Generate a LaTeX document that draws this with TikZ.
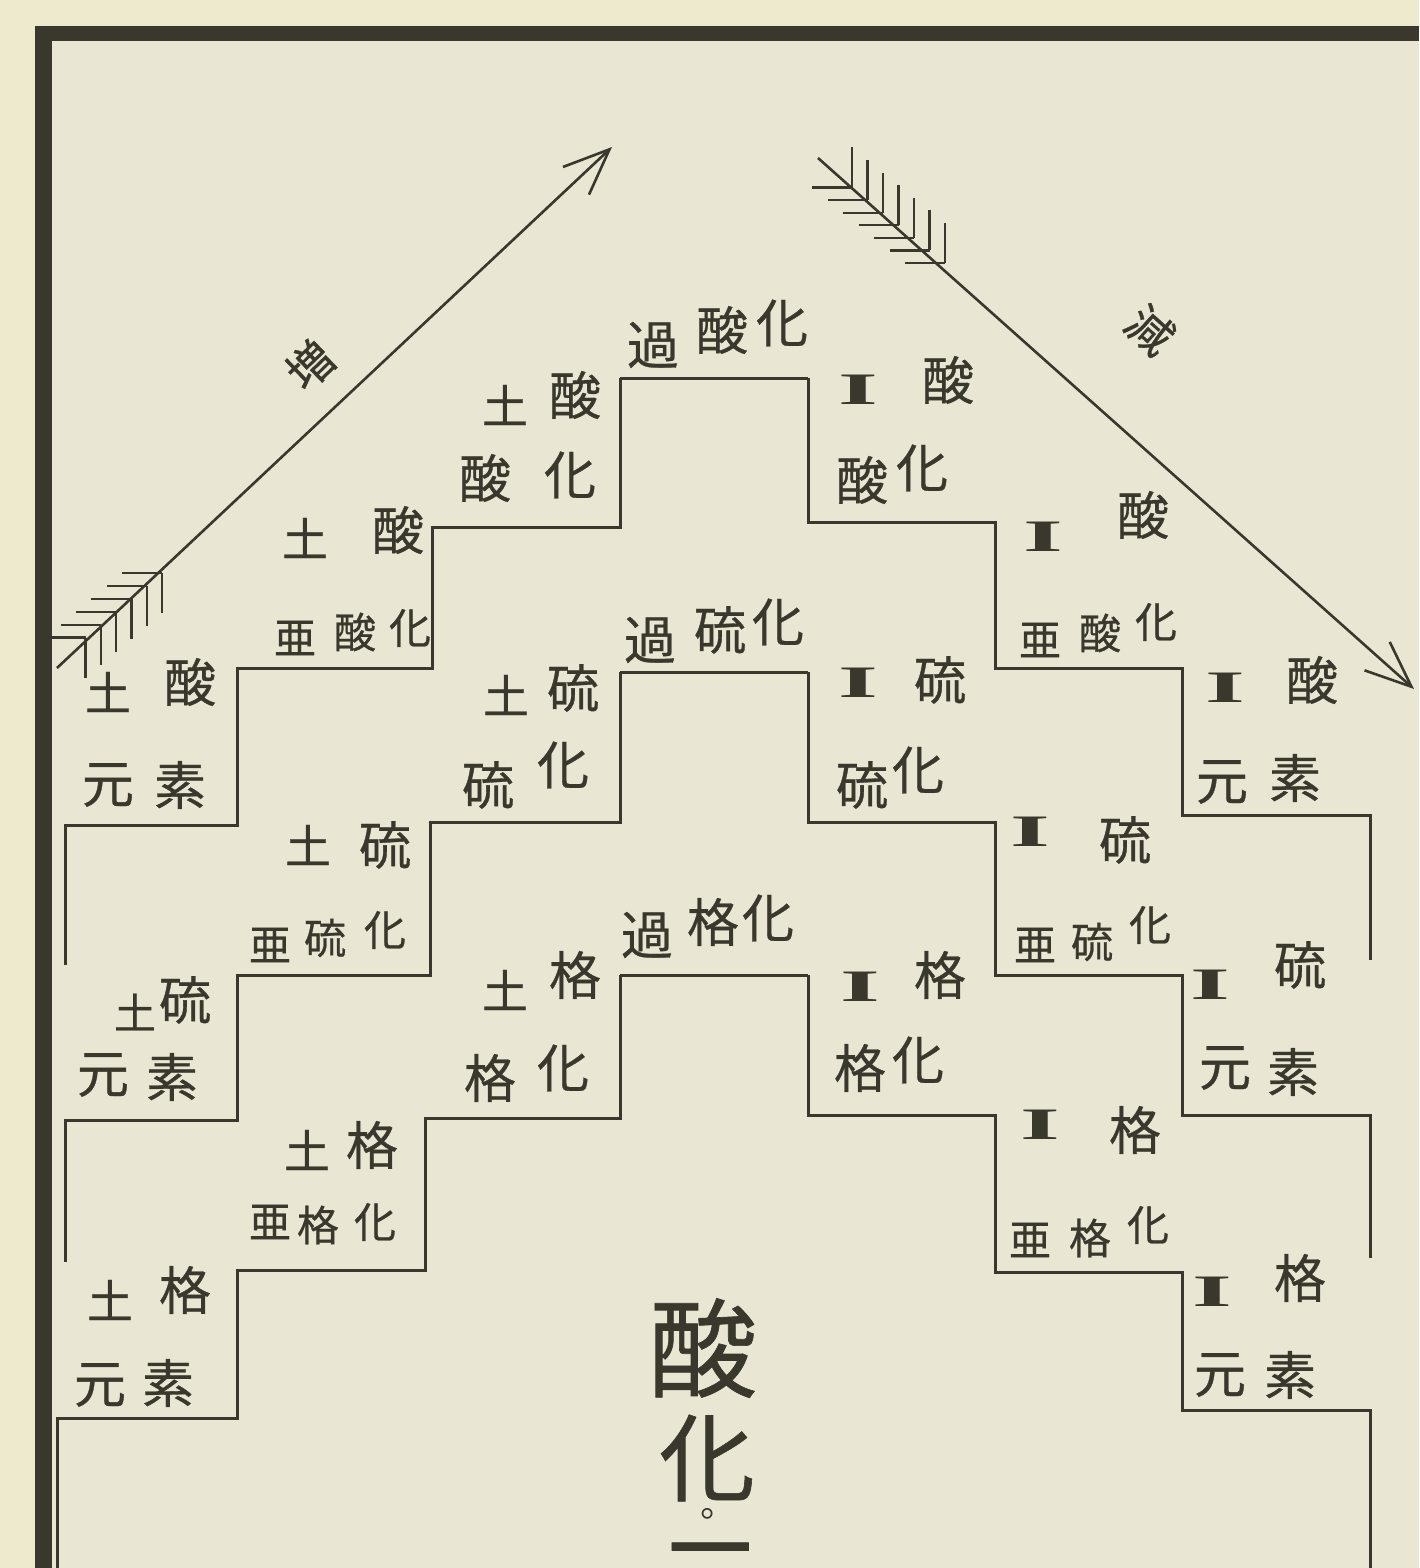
\documentclass[tikz,border=0pt]{standalone}
\usepackage{graphicx}
\usepackage{fontspec}
\setmainfont{Liberation Serif}
\newfontfamily\jp[FakeBold=0.6]{Noto Sans CJK JP}
\newfontfamily\tcfont{Noto Sans CJK TC}
\usetikzlibrary{arrows.meta,calc}
\definecolor{paper}{RGB}{233,231,212}
\definecolor{margin}{RGB}{238,234,206}
\definecolor{ink}{RGB}{58,56,45}
\newcommand{\sgnI}{\scalebox{1.7}[0.75]{I}}
\begin{document}
\begin{tikzpicture}[x=0.5pt,y=-0.5pt,
  cj/.style={inner sep=0pt,text=ink,font=\jp\fontsize{26}{26}\selectfont},
  cjs/.style={inner sep=0pt,text=ink,font=\jp\fontsize{21}{21}\selectfont},
  cjp/.style={inner sep=0pt,text=ink,font=\jp\fontsize{23}{23}\selectfont},
  cjb/.style={inner sep=0pt,text=ink,font=\jp\fontsize{54}{54}\selectfont},
  sgn/.style={inner sep=0pt,text=ink,font=\fontsize{30}{30}\selectfont\bfseries},
  stair/.style={draw=ink,line width=1.5pt,line join=miter},
  shaft/.style={draw=ink,line width=1.3pt},
  feather/.style={draw=ink,line width=1.1pt},
  headtip/.style={-{Straight Barb[length=23pt,width=19pt,line width=1.3pt]}}]
\useasboundingbox (0,0) rectangle (1419,1568);
\fill[margin] (0,0) rectangle (1419,1568);
\fill[paper] (35,25) rectangle (1419,1568);
\fill[ink] (35,26) rectangle (1419,41);
\fill[ink] (35,26) rectangle (52,1568);

% ---------- stair lines ----------
% row 1 (oxygen)
\draw[stair] (620,378) -- (808,378);
\draw[stair] (620,378) -- (620,527) -- (432,527) -- (432,668) -- (237,668) -- (237,825) -- (65,825) -- (65,965);
\draw[stair] (808,378) -- (808,522) -- (995,522) -- (995,668) -- (1182,668) -- (1182,815) -- (1370,815) -- (1370,960);
% row 2 (sulphur)
\draw[stair] (620,672) -- (808,672);
\draw[stair] (620,672) -- (620,822) -- (430,822) -- (430,975) -- (237,975) -- (237,1120) -- (65,1120) -- (65,1262);
\draw[stair] (808,672) -- (808,822) -- (995,822) -- (995,975) -- (1182,975) -- (1182,1115) -- (1370,1115) -- (1370,1258);
% row 3
\draw[stair] (620,975) -- (808,975);
\draw[stair] (620,975) -- (620,1118) -- (425,1118) -- (425,1270) -- (237,1270) -- (237,1418) -- (57,1418) -- (57,1568);
\draw[stair] (808,975) -- (808,1115) -- (995,1115) -- (995,1272) -- (1182,1272) -- (1182,1410) -- (1370,1410) -- (1370,1568);

% ---------- arrows ----------
\coordinate (lt) at (57,668);
\coordinate (lf) at (162,573);
\coordinate (lh) at (612,147);
\draw[shaft,headtip] (lt) -- (lh);
\foreach \k in {0,...,5} {
  \draw[feather] ($(lf)+({-15.3*\k},{12.9*\k})$) -- ++(-40,0);
  \draw[feather] ($(lf)+({-15.3*\k},{12.9*\k})$) -- ++(0,40);
}
\coordinate (rt) at (818,158);
\coordinate (rf) at (945,263);
\coordinate (rh) at (1414,689);
\draw[shaft,headtip] (rt) -- (rh);
\foreach \k in {0,...,6} {
  \draw[feather] ($(rf)+({-15.5*\k},{-12.6*\k})$) -- ++(-40,0);
  \draw[feather] ($(rf)+({-15.5*\k},{-12.6*\k})$) -- ++(0,-40);
}
\node[cjp,rotate=44] (inc) at (310,365) {増};
\node[cjp,rotate=-42] (dec) at (1150,330) {減};

% ---------- row 1 texts ----------
\node[cj] (a1) at (653,345) {過};
\node[cj] (a2) at (722,330) {酸};
\node[cj] (a3) at (782,323) {化};
\node[cjp] (b1) at (505,405) {土};
\node[cj] (b2) at (575,395) {酸};
\node[cj] (b3) at (485,478) {酸};
\node[cj] (b4) at (570,475) {化};
\node[cjp] (c1) at (305,538) {土};
\node[cj] (c2) at (398,530) {酸};
\node[cjs] (c3) at (295,638) {亜};
\node[cjs] (c4) at (355,632) {酸};
\node[cjs] (c5) at (410,628) {化};
\node[cjp] (d1) at (108,692) {土};
\node[cj] (d2) at (190,682) {酸};
\node[cj] (d3) at (108,785) {元};
\node[cj] (d4) at (180,785) {素};
\node[sgn] (e1) at (858,390) {\sgnI};
\node[cj] (e2) at (948,380) {酸};
\node[cj] (e3) at (862,480) {酸};
\node[cj] (e4) at (922,468) {化};
\node[sgn] (f1) at (1043,537) {\sgnI};
\node[cj] (f2) at (1143,515) {酸};
\node[cjs] (f3) at (1040,640) {亜};
\node[cjs] (f4) at (1100,633) {酸};
\node[cjs] (f5) at (1156,622) {化};
\node[sgn] (g1) at (1225,688) {\sgnI};
\node[cj] (g2) at (1312,680) {酸};
\node[cj] (g3) at (1222,782) {元};
\node[cj] (g4) at (1295,778) {素};

% ---------- row 2 texts ----------
\node[cj] (h1) at (650,640) {過};
\node[cj] (h2) at (720,630) {硫};
\node[cj] (h3) at (778,622) {化};
\node[cjp] (i1) at (506,695) {土};
\node[cj] (i2) at (573,688) {硫};
\node[cj] (i3) at (488,785) {硫};
\node[cj] (i4) at (563,765) {化};
\node[cjp] (j1) at (308,845) {土};
\node[cj] (j2) at (385,845) {硫};
\node[cjs] (j3) at (270,945) {亜};
\node[cjs] (j4) at (325,938) {硫};
\node[cjs] (j5) at (385,930) {化};
\node[cjs] (k1) at (135,1012) {土};
\node[cj] (k2) at (185,1000) {硫};
\node[cj] (k3) at (103,1075) {元};
\node[cj] (k4) at (172,1077) {素};
\node[sgn] (l1) at (858,683) {\sgnI};
\node[cj] (l2) at (940,680) {硫};
\node[cj] (l3) at (862,785) {硫};
\node[cj] (l4) at (918,770) {化};
\node[sgn] (m1) at (1030,832) {\sgnI};
\node[cj] (m2) at (1125,840) {硫};
\node[cjs] (m3) at (1035,945) {亜};
\node[cjs] (m4) at (1092,942) {硫};
\node[cjs] (m5) at (1150,925) {化};
\node[sgn] (n1) at (1210,985) {\sgnI};
\node[cj] (n2) at (1300,965) {硫};
\node[cj] (n3) at (1225,1068) {元};
\node[cj] (n4) at (1293,1072) {素};

% ---------- row 3 texts ----------
\node[cj] (o1) at (647,935) {過};
\node[cj] (o2) at (713,922) {格};
\node[cj] (o3) at (768,918) {化};
\node[cjp] (p1) at (505,990) {土};
\node[cj] (p2) at (575,975) {格};
\node[cj] (p3) at (490,1078) {格};
\node[cj] (p4) at (563,1068) {化};
\node[cjp] (q1) at (307,1150) {土};
\node[cj] (q2) at (372,1145) {格};
\node[cjs] (q3) at (270,1222) {亜};
\node[cjs] (q4) at (318,1225) {格};
\node[cjs] (q5) at (375,1222) {化};
\node[cjp] (s1) at (110,1300) {土};
\node[cj] (s2) at (185,1290) {格};
\node[cj] (s3) at (100,1385) {元};
\node[cj] (s4) at (168,1383) {素};
\node[sgn] (t1) at (860,987) {\sgnI};
\node[cj] (t2) at (940,975) {格};
\node[cj] (t3) at (860,1068) {格};
\node[cj] (t4) at (918,1060) {化};
\node[sgn] (u1) at (1040,1125) {\sgnI};
\node[cj] (u2) at (1135,1130) {格};
\node[cjs] (u3) at (1030,1240) {亜};
\node[cjs] (u4) at (1090,1238) {格};
\node[cjs] (u5) at (1148,1225) {化};
\node[sgn] (v1) at (1212,1292) {\sgnI};
\node[cj] (v2) at (1300,1278) {格};
\node[cj] (v3) at (1220,1375) {元};
\node[cj] (v4) at (1290,1375) {素};

% ---------- bottom title ----------
\node[cjb] (w1) at (703,1348) {酸};
\node[cjb,font=\jp\fontsize{48}{48}\selectfont] (w2) at (707,1458) {化};
\node[inner sep=0pt,text=ink,font=\tcfont\fontsize{18}{18}\selectfont] (w3) at (707,1518) {。};
\node[cjb] (w4) at (710,1588) {元};
\end{tikzpicture}
\end{document}
